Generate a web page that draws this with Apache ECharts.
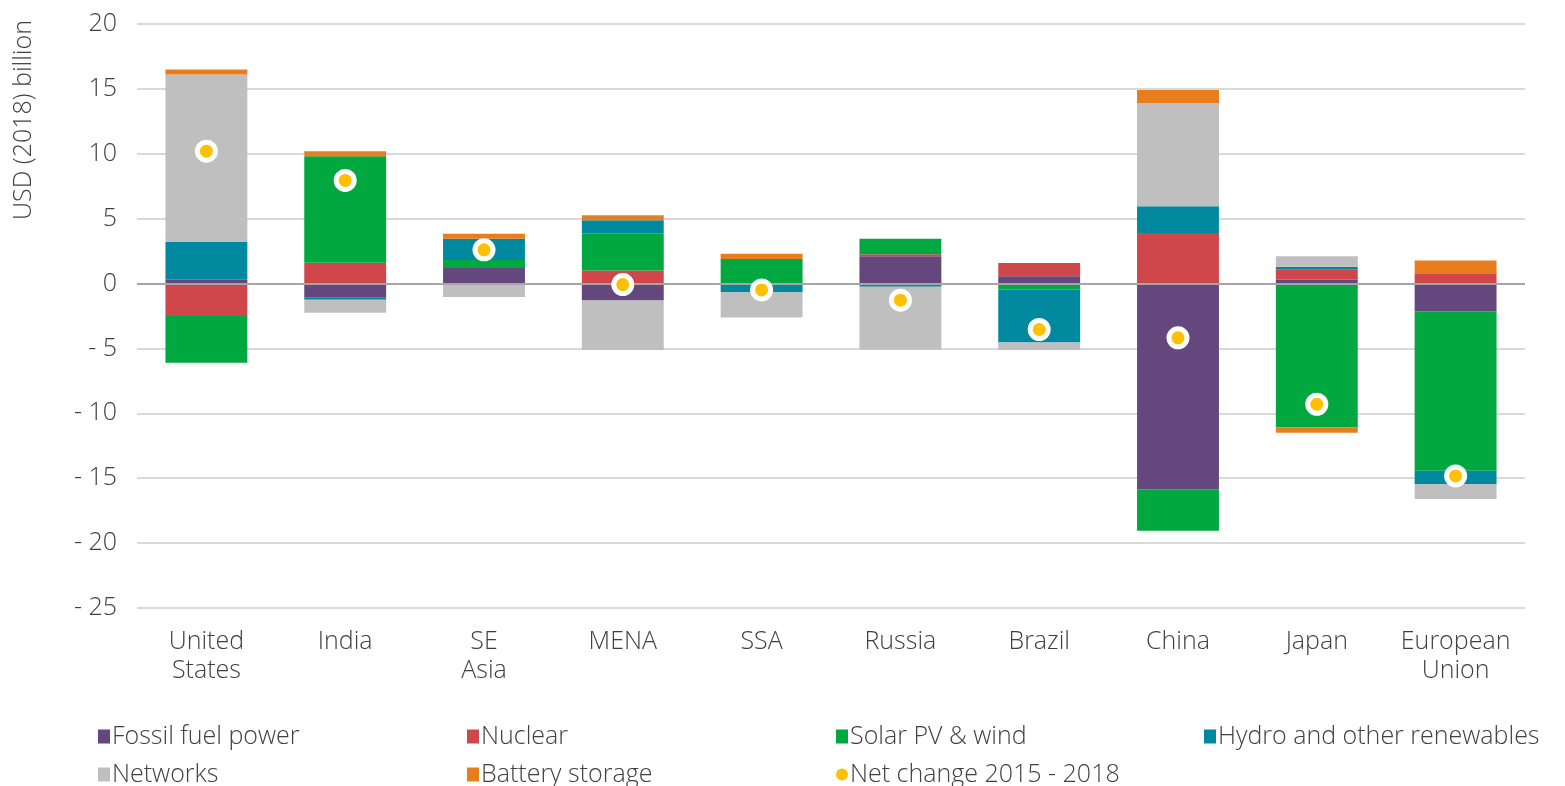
<!DOCTYPE html>
<html>
<head>
<meta charset="utf-8">
<script src="https://cdn.jsdelivr.net/npm/echarts@6/dist/echarts.min.js"></script>
<style>
html,body{margin:0;padding:0;background:#fff;}
#main{width:1565px;height:786px;}
</style>
</head>
<body>
<div id="main"></div>
<script>
var regions = ['United\nStates','India','SE\nAsia','MENA','SSA','Russia','Brazil','China','Japan','European\nUnion'];
var fossil  = [0.3, -1.1, 1.2, -1.3, 0, 2.1, 0.56, -15.85, 0.3, -2.13];
var nuclear = [-2.5, 1.6, 0, 1.0, 0, 0.15, 1.03, 3.9, 0.77, 0.8];
var solar   = [-3.6, 8.2, 0.62, 2.87, 1.9, 1.2, -0.45, -3.2, -11.1, -12.3];
var hydro   = [2.9, -0.15, 1.64, 1.0, -0.65, -0.25, -4.1, 2.05, 0.23, -1.02];
var networks= [12.9, -1.0, -1.03, -3.82, -1.97, -4.85, -0.57, 7.95, 0.8, -1.15];
var battery = [0.4, 0.4, 0.38, 0.4, 0.4, 0, 0, 1.02, -0.4, 0.97];
var netChange = [10.2, 7.95, 2.6, -0.08, -0.49, -1.28, -3.54, -4.18, -9.3, -14.82];

var txt = '#404040';
var font = 'Open Sans';
var fw = 300;

function bar(name, data, color){
	return {name:name, type:'bar', stack:'total', data:data, barCategoryGap:'41%',
		itemStyle:{color:color}};
}

var series = [
	bar('Fossil fuel power', fossil, '#63477d'),
	bar('Nuclear', nuclear, '#d0474b'),
	bar('Solar PV & wind', solar, '#00a83f'),
	bar('Hydro and other renewables', hydro, '#00899e'),
	bar('Networks', networks, '#bfbfbf'),
	bar('Battery storage', battery, '#e87d1e'),
	{name:'Net change 2015 - 2018', type:'scatter', data:netChange, symbolSize:18, z:5,
		itemStyle:{color:'#ffc000', borderColor:'#fff', borderWidth:5, opacity:1}}
];
// zero line
series[0].markLine = {silent:true, symbol:'none', label:{show:false},
	lineStyle:{color:'#a6a6a6', width:2, type:'solid'}, data:[{yAxis:0}]};

function leg(name, left, top, icon){
	return {data:[{name:name, icon:icon || 'rect', itemStyle:{borderWidth:0}}], left:left, top:top,
		itemWidth:12, itemHeight:icon ? 12 : 14, itemGap:2, selectedMode:false,
		textStyle:{color:txt, fontSize:25, fontWeight:fw, fontFamily:font, padding:[0,0,0,-3]}};
}

var myChart = echarts.init(document.getElementById('main'));
var option = {
	animation:false,
	textStyle:{fontFamily:font},
	grid:{left:137, right:40, top:24, bottom:178},
	legend:[
		leg('Fossil fuel power', 93, 719),
		leg('Nuclear', 462, 719),
		leg('Solar PV & wind', 831, 719),
		leg('Hydro and other renewables', 1199, 719),
		leg('Networks', 93, 757),
		leg('Battery storage', 462, 757),
		leg('Net change 2015 - 2018', 831, 757, 'circle')
	],
	graphic:[{type:'text', rotation:Math.PI/2, x:24, y:120,
		style:{text:'USD (2018) billion', fill:txt, fontSize:25, fontWeight:fw, fontFamily:font,
			align:'center', verticalAlign:'middle'}}],
	xAxis:{type:'category', data:regions,
		axisLine:{show:false, onZero:false}, axisTick:{show:false},
		axisLabel:{color:txt, fontSize:25, fontWeight:fw, lineHeight:29, margin:19, interval:0, fontFamily:font}},
	yAxis:{type:'value', min:-25, max:20, interval:5,
		axisLine:{show:false}, axisTick:{show:false},
		splitLine:{lineStyle:{color:'#d9d9d9', width:2}},
		axisLabel:{color:txt, fontSize:25, fontWeight:fw, margin:20, fontFamily:font,
			formatter:function(v){return v < 0 ? '- ' + Math.abs(v) : v;}}},
	series:series
};
myChart.setOption(option);
</script>
</body>
</html>
